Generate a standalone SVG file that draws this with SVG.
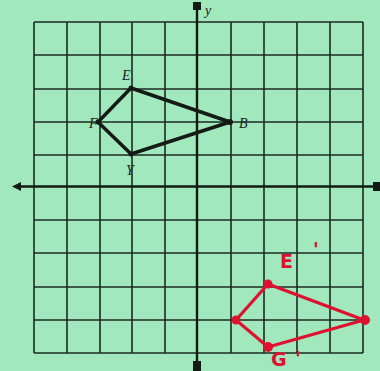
<svg xmlns="http://www.w3.org/2000/svg" width="380" height="371" viewBox="0 0 380 371">
<style>
.grid{stroke:#1d2a22;stroke-width:1.6;fill:none}
.axis{stroke:#111a14;stroke-width:2.4;fill:none}
.shape{stroke:#141a16;stroke-width:3.5;fill:none;stroke-linejoin:round}
.red{stroke:#de1230;stroke-width:3.2;fill:none;stroke-linejoin:round;stroke-linecap:round}
.lbl{font-family:"Liberation Serif",serif;font-style:italic;font-size:14px;fill:#1a221c}
.rlbl{font-family:"DejaVu Sans",sans-serif;font-size:19px;font-weight:bold;fill:#de1230}
</style>
<rect width="380" height="371" fill="#a2e8bd"/>
<g id="grid" class="grid">
<path d="M34 22V353M67 22V353M100 22V353M132 22V353M165 22V353M231 22V353M264 22V353M297 22V353M330 22V353M363 22V353"/>
<path d="M34 22H363M34 55H363M34 89H363M34 122H363M34 155H363M34 220H363M34 253H363M34 287H363M34 320H363M34 353H363"/>
</g>
<g id="axes">
<path class="axis" d="M18 186.5H374M197 8V362"/>
<polygon points="12,186.5 21,182 21,191" fill="#111a14"/>
<rect x="373" y="182" width="7" height="9" fill="#111a14"/>
<rect x="193" y="2" width="8" height="8" fill="#111a14"/>
<rect x="193" y="361" width="8" height="10" fill="#111a14"/>
<text x="205" y="15" class="lbl" font-size="15">y</text>
</g>
<g id="connectors">
<polygon class="shape" points="131,88 230,122 131,154 98,122"/>
<polygon class="red" points="268,284 364,320 268,347 236,320"/>
</g>
<g id="E"><circle cx="131" cy="88" r="2.5" fill="#141a16"/><text x="122" y="80" class="lbl">E</text></g>
<g id="F"><circle cx="98" cy="122" r="2.5" fill="#141a16"/><text x="89" y="128" class="lbl">F</text></g>
<g id="Y"><circle cx="131" cy="154" r="2.5" fill="#141a16"/><text x="126" y="175" class="lbl">Y</text></g>
<g id="B"><circle cx="230" cy="122" r="3" fill="#141a16"/><text x="239" y="128" class="lbl">B</text></g>
<g id="E1"><circle cx="268" cy="284" r="4.5" fill="#de1230"/><text x="280" y="268" class="rlbl">E</text><text x="313" y="256" class="rlbl">'</text></g>
<g id="F1"><circle cx="236" cy="320" r="4.5" fill="#de1230"/></g>
<g id="G1"><circle cx="268" cy="347" r="5" fill="#de1230"/><text x="271" y="366" class="rlbl" font-size="15">G</text><text x="295" y="365" class="rlbl" font-size="15">'</text></g>
<g id="B1"><circle cx="365" cy="320" r="5" fill="#de1230"/></g>
</svg>
